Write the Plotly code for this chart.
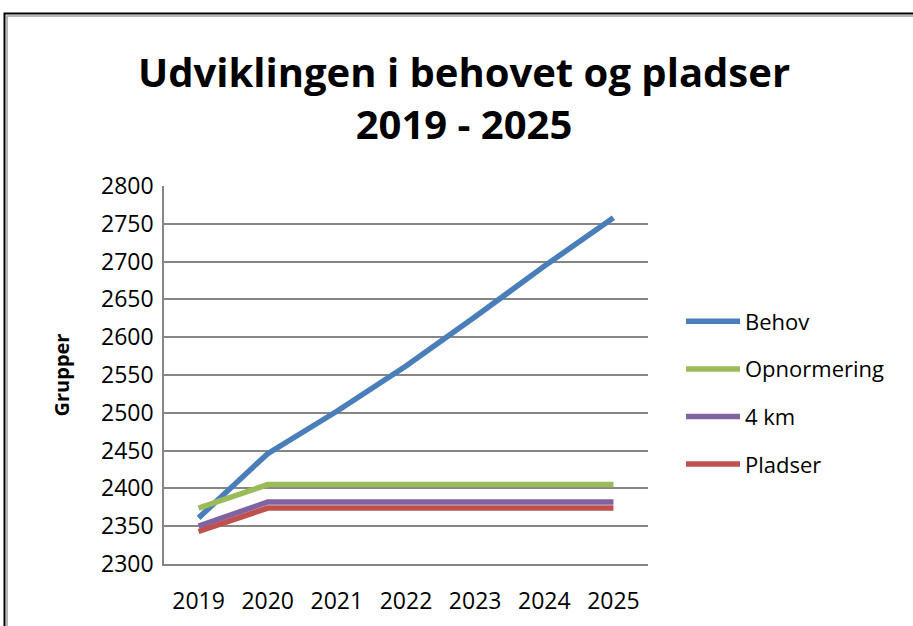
import plotly.graph_objects as go

years = ["2019", "2020", "2021", "2022", "2023", "2024", "2025"]
behov = [2361, 2446, 2502, 2562, 2627, 2694, 2758]
opnormering = [2374, 2405, 2405, 2405, 2405, 2405, 2405]
km4 = [2350, 2382, 2382, 2382, 2382, 2382, 2382]
pladser = [2343, 2374, 2374, 2374, 2374, 2374, 2374]

series = [
    ("Behov", behov, "#4A7EBB"),
    ("Opnormering", opnormering, "#9BBB59"),
    ("4 km", km4, "#8064A2"),
    ("Pladser", pladser, "#C0504D"),
]

W, H = 913, 626
PL, PR, PT, PB = 164, 648, 186, 564   # plot area in screen px
L, T = PL, PT
R, B = W - PR, H - PB
pw, ph = W - L - R, H - T - B

def px(x):
    return (x - L) / pw

def py(y):
    return (H - B - y) / ph

FONT = "'Open Sans', 'Noto Sans', sans-serif"

fig = go.Figure()
for name, vals, col in series:
    fig.add_trace(go.Scatter(
        x=years, y=vals, name=name, mode="lines", legendgroup=name,
        line=dict(color=col, width=5.5),
    ))

shapes = [
    dict(type="rect", xref="paper", yref="paper",
         x0=px(4.5), x1=px(940), y0=py(13.5), y1=py(660),
         line=dict(color="black", width=2), layer="below"),
    dict(type="rect", xref="paper", yref="paper",
         x0=px(7), x1=px(940), y0=py(16), y1=py(660),
         line=dict(color="#A0A0A0", width=1.5), layer="below"),
]

fig.update_layout(
    width=W, height=H,
    margin=dict(l=L, r=R, t=T, b=B, autoexpand=False),
    paper_bgcolor="white", plot_bgcolor="white",
    font=dict(family=FONT, size=22, color="black"),
    title=dict(
        text="<b>Udviklingen i behovet og pladser<br>2019 - 2025</b>",
        xref="container", x=464 / W, xanchor="center",
        yref="container", y=1 - 86.5 / H, yanchor="middle",
        font=dict(family=FONT, size=40, color="black"),
    ),
    xaxis=dict(
        type="category", showgrid=False, showline=True, automargin=False,
        linecolor="#868686", linewidth=1.5, ticks="",
        tickfont=dict(size=23), range=[-0.5, 6.5], ticklabelstandoff=16,
    ),
    yaxis=dict(
        range=[2300, 2800], dtick=50, showgrid=True, automargin=False,
        gridcolor="#868686", gridwidth=1.5, showline=True,
        linecolor="#868686", linewidth=1.5, ticks="",
        tickfont=dict(size=23), zeroline=False, ticklabelstandoff=4,
        title=dict(text="<b>Grupper</b>", font=dict(size=20), standoff=26),
    ),
    legend=dict(
        x=px(681), xanchor="left", y=py(300.5), yanchor="top",
        font=dict(size=22), tracegroupgap=16, itemwidth=54,
        bgcolor="rgba(0,0,0,0)",
    ),
    shapes=shapes,
    showlegend=True,
)

fig.write_html("out.html", config={"displayModeBar": False},
               post_script="document.body.style.margin='0';")
